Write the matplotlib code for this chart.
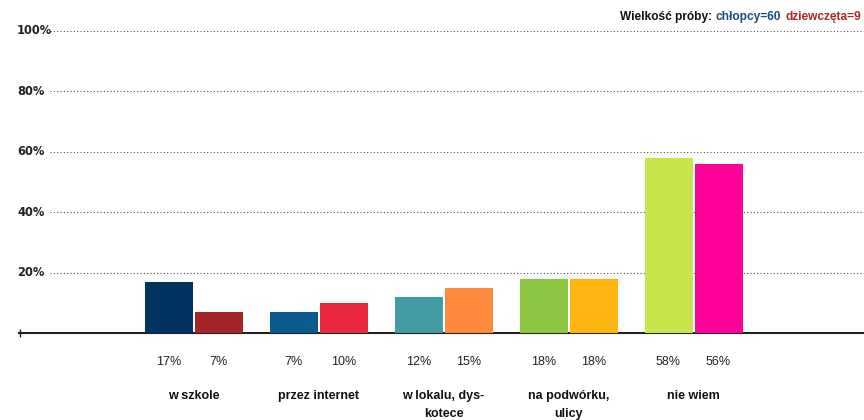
import matplotlib
matplotlib.use("Agg")
import matplotlib.pyplot as plt

categories = ["w szkole", "przez internet", "w lokalu, dys-\nkotece", "na podwórku,\nulicy", "nie wiem"]
boys = [17, 7, 12, 18, 58]
girls = [7, 10, 15, 18, 56]
boys_labels = ["17%", "7%", "12%", "18%", "58%"]
girls_labels = ["7%", "10%", "15%", "18%", "56%"]
boys_colors = ["#00335F", "#0B5A8E", "#439BA6", "#8DC641", "#C8E64B"]
girls_colors = ["#A52428", "#E8283C", "#FF8A3D", "#FFB612", "#FF0099"]
yticks = [20, 40, 60, 80, 100]
ytick_labels = ["20%", "40%", "60%", "80%", "100%"]

W, H = 864, 420
fig = plt.figure(figsize=(W / 100, H / 100), dpi=100)
ax = fig.add_axes([19 / W, (H - 333) / H, 1 - 19 / W, (333 - 31) / H])

x0_px, step_px = 193.5, 125.0
def px2i(px):
    return (px - x0_px) / step_px

ax.set_xlim(px2i(19), px2i(864))
ax.set_ylim(0, 100)

bw = 0.384
off = 0.2
for i in range(len(categories)):
    ax.bar(i - off, boys[i], width=bw, color=boys_colors[i], zorder=3)
    ax.bar(i + off, girls[i], width=bw, color=girls_colors[i], zorder=3)

# gridlines
ax.hlines(yticks, px2i(50), px2i(864), colors="#555555", linestyles=(0, (1, 2)), linewidth=0.8, zorder=1)

for s in ["top", "right", "left"]:
    ax.spines[s].set_visible(False)
ax.spines["bottom"].set_color("#222222")
ax.spines["bottom"].set_linewidth(1.5)
ax.set_xticks([])
ax.set_yticks([])
ax.plot([px2i(19.5)], [0], marker="|", color="#222222", markersize=6, clip_on=False, zorder=4)

for v, lab in zip(yticks, ytick_labels):
    fig.text(17 / W, 1 - (333 - v * 3.02) / H, lab, ha="left", va="center",
             fontsize=9.2, fontweight="bold", family="DejaVu Sans", stretch="condensed",
             color="#222222")

trans = ax.get_xaxis_transform()
sans = ["Liberation Sans", "DejaVu Sans"]
for i in range(len(categories)):
    ax.text(i - off, -(362 - 333) / (333 - 31), boys_labels[i], transform=trans, ha="center", va="center",
            fontsize=9, color="#222222", family=sans)
    ax.text(i + off, -(362 - 333) / (333 - 31), girls_labels[i], transform=trans, ha="center", va="center",
            fontsize=9, color="#222222", family=sans)
    ax.text(i, -(390 - 333) / (333 - 31), categories[i], transform=trans, ha="center", va="top",
            fontsize=9, fontweight="bold", color="#111111", linespacing=1.7, family=sans)

# title pieces (drawn right-aligned from the right edge so the last one fits)
renderer = fig.canvas.get_renderer()
pieces = [("Wielkość próby:", "#111111"), ("chłopcy=60", "#1F4E79"), ("dziewczęta=9", "#B0272D")]
gap = 4 / W
x = 861 / W
y = 1 - 17 / H
for txt, col in reversed(pieces):
    t = fig.text(x, y, txt, ha="right", va="center", fontsize=8.6, fontweight="bold", color=col,
                 family=sans)
    bb = t.get_window_extent(renderer=renderer)
    x -= bb.width / W + gap

fig.savefig("out.png", dpi=100)
